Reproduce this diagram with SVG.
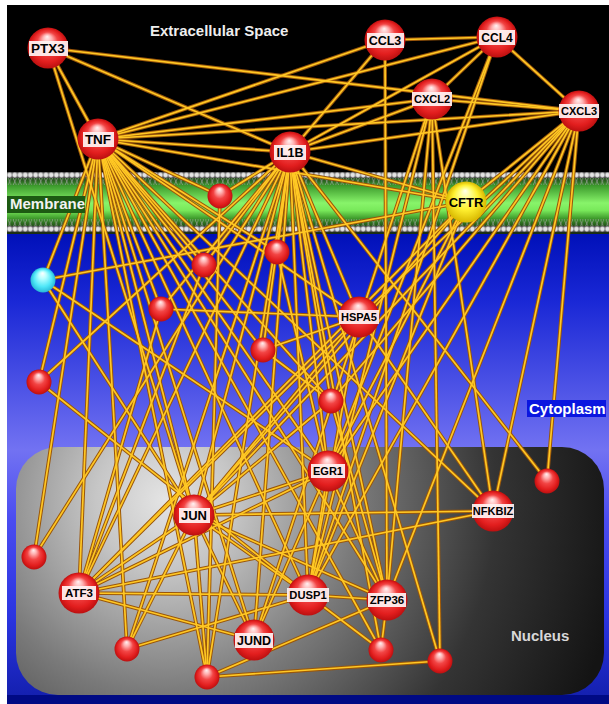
<svg xmlns="http://www.w3.org/2000/svg" xmlns:xlink="http://www.w3.org/1999/xlink" width="609" height="704" viewBox="0 0 609 704">
<style>
.lbl{font-family:"Liberation Sans",Arial,sans-serif;font-weight:bold;fill:#000;text-anchor:middle}
.box{fill:#fff4f4;fill-opacity:0.92}
.region{font-family:"Liberation Sans",Arial,sans-serif;font-weight:bold;font-size:15px}
.red{fill:url(#gRed)}
</style>
<defs>
<radialGradient id="gRed" cx="50%" cy="50%" r="50%" fx="48%" fy="22%">
<stop offset="0" stop-color="#fff2f2"/><stop offset="0.22" stop-color="#ffb0b0"/><stop offset="0.5" stop-color="#f24444"/><stop offset="0.8" stop-color="#e21e1e"/><stop offset="1" stop-color="#bc1010"/>
</radialGradient>
<radialGradient id="gYel" cx="50%" cy="50%" r="50%" fx="48%" fy="22%">
<stop offset="0" stop-color="#fffff0"/><stop offset="0.25" stop-color="#ffff90"/><stop offset="0.6" stop-color="#fff030"/><stop offset="1" stop-color="#d8b800"/>
</radialGradient>
<radialGradient id="gCyan" cx="50%" cy="50%" r="50%" fx="48%" fy="22%">
<stop offset="0" stop-color="#ffffff"/><stop offset="0.3" stop-color="#b8ffff"/><stop offset="0.7" stop-color="#50e8f8"/><stop offset="1" stop-color="#28b8d8"/>
</radialGradient>
<linearGradient id="gMem" x1="0" y1="172" x2="0" y2="234" gradientUnits="userSpaceOnUse">
<stop offset="0" stop-color="#1a2a14"/><stop offset="0.14" stop-color="#2a6020"/><stop offset="0.22" stop-color="#3c9a2c"/><stop offset="0.5" stop-color="#88f46a"/><stop offset="0.62" stop-color="#78e85a"/><stop offset="0.76" stop-color="#3a9428"/><stop offset="0.88" stop-color="#224c18"/><stop offset="1" stop-color="#1a2a14"/>
</linearGradient>
<linearGradient id="gCyto" x1="0" y1="232" x2="0" y2="696" gradientUnits="userSpaceOnUse">
<stop offset="0" stop-color="#0010b8"/><stop offset="0.15" stop-color="#1a28d6"/><stop offset="0.47" stop-color="#7272f2"/><stop offset="0.62" stop-color="#4a4cf0"/><stop offset="0.83" stop-color="#2a34e0"/><stop offset="1" stop-color="#1420b0"/>
</linearGradient>
<radialGradient id="gNuc" cx="165" cy="500" r="460" gradientUnits="userSpaceOnUse">
<stop offset="0" stop-color="#e4e4e4"/><stop offset="0.15" stop-color="#c6c6c6"/><stop offset="0.42" stop-color="#7a7a7a"/><stop offset="0.72" stop-color="#343434"/><stop offset="1" stop-color="#141414"/>
</radialGradient>
<pattern id="pBeads" x="7" y="172" width="5.2" height="6" patternUnits="userSpaceOnUse">
<rect width="5.2" height="6" fill="#505050"/>
<circle cx="2.6" cy="3" r="2.4" fill="#e4e4e4" stroke="#909090" stroke-width="0.4"/>
</pattern>
<pattern id="pTails" x="7" y="178" width="5.2" height="7" patternUnits="userSpaceOnUse">
<path d="M1 0 L4 7 M4 0 L1 7" stroke="#a8a8a8" stroke-width="0.6" fill="none"/>
</pattern>
</defs>

<rect x="0" y="0" width="609" height="704" fill="#ffffff"/>
<rect x="7" y="5" width="602" height="168" fill="#000000"/>
<rect x="7" y="232" width="602" height="464" fill="url(#gCyto)"/>
<rect x="7" y="695" width="602" height="9" fill="#000a84"/>
<rect x="7" y="172" width="602" height="62" fill="url(#gMem)"/>
<rect x="7" y="172" width="602" height="6" fill="url(#pBeads)"/>
<rect x="7" y="178" width="602" height="7" fill="url(#pTails)"/>
<rect x="7" y="219" width="602" height="7" fill="url(#pTails)"/>
<rect x="7" y="226" width="602" height="6" fill="url(#pBeads)"/>
<rect x="16" y="447" width="588" height="248" rx="42" ry="42" fill="url(#gNuc)"/>

<g id="connectors">
<g stroke="#9a560a" stroke-width="3.7" stroke-linecap="round">
<g id="edge-lines">
<line x1="48" y1="48" x2="579" y2="111"/>
<line x1="48" y1="48" x2="290" y2="152"/>
<line x1="48" y1="48" x2="98" y2="139"/>
<line x1="48" y1="48" x2="194" y2="515"/>
<line x1="98" y1="139" x2="385" y2="40"/>
<line x1="98" y1="139" x2="497" y2="37"/>
<line x1="98" y1="139" x2="432" y2="99"/>
<line x1="98" y1="139" x2="579" y2="111"/>
<line x1="98" y1="139" x2="290" y2="152"/>
<line x1="98" y1="139" x2="466" y2="202"/>
<line x1="98" y1="139" x2="220" y2="196"/>
<line x1="290" y1="152" x2="385" y2="40"/>
<line x1="290" y1="152" x2="497" y2="37"/>
<line x1="290" y1="152" x2="432" y2="99"/>
<line x1="290" y1="152" x2="579" y2="111"/>
<line x1="290" y1="152" x2="466" y2="202"/>
<line x1="290" y1="152" x2="220" y2="196"/>
<line x1="385" y1="40" x2="497" y2="37"/>
<line x1="497" y1="37" x2="432" y2="99"/>
<line x1="497" y1="37" x2="579" y2="111"/>
<line x1="432" y1="99" x2="579" y2="111"/>
<line x1="579" y1="111" x2="466" y2="202"/>
<line x1="385" y1="40" x2="387" y2="600"/>
<line x1="497" y1="37" x2="328" y2="471"/>
<line x1="497" y1="37" x2="308" y2="595"/>
<line x1="43" y1="280" x2="466" y2="202"/>
<line x1="98" y1="139" x2="43" y2="280"/>
<line x1="98" y1="139" x2="39" y2="382"/>
<line x1="98" y1="139" x2="34" y2="557"/>
<line x1="98" y1="139" x2="79" y2="593"/>
<line x1="98" y1="139" x2="127" y2="649"/>
<line x1="98" y1="139" x2="194" y2="515"/>
<line x1="98" y1="139" x2="207" y2="677"/>
<line x1="98" y1="139" x2="254" y2="640"/>
<line x1="98" y1="139" x2="308" y2="595"/>
<line x1="98" y1="139" x2="328" y2="471"/>
<line x1="98" y1="139" x2="387" y2="600"/>
<line x1="98" y1="139" x2="161" y2="309"/>
<line x1="98" y1="139" x2="204" y2="265"/>
<line x1="98" y1="139" x2="263" y2="350"/>
<line x1="98" y1="139" x2="359" y2="317"/>
<line x1="98" y1="139" x2="331" y2="401"/>
<line x1="98" y1="139" x2="493" y2="511"/>
<line x1="98" y1="139" x2="381" y2="650"/>
<line x1="98" y1="139" x2="277" y2="252"/>
<line x1="290" y1="152" x2="204" y2="265"/>
<line x1="290" y1="152" x2="277" y2="252"/>
<line x1="290" y1="152" x2="263" y2="350"/>
<line x1="290" y1="152" x2="359" y2="317"/>
<line x1="290" y1="152" x2="331" y2="401"/>
<line x1="290" y1="152" x2="328" y2="471"/>
<line x1="290" y1="152" x2="194" y2="515"/>
<line x1="290" y1="152" x2="308" y2="595"/>
<line x1="290" y1="152" x2="387" y2="600"/>
<line x1="290" y1="152" x2="254" y2="640"/>
<line x1="290" y1="152" x2="79" y2="593"/>
<line x1="290" y1="152" x2="34" y2="557"/>
<line x1="290" y1="152" x2="127" y2="649"/>
<line x1="290" y1="152" x2="207" y2="677"/>
<line x1="290" y1="152" x2="381" y2="650"/>
<line x1="290" y1="152" x2="39" y2="382"/>
<line x1="290" y1="152" x2="440" y2="661"/>
<line x1="290" y1="152" x2="547" y2="481"/>
<line x1="290" y1="152" x2="161" y2="309"/>
<line x1="466" y1="202" x2="308" y2="595"/>
<line x1="466" y1="202" x2="194" y2="515"/>
<line x1="466" y1="202" x2="328" y2="471"/>
<line x1="466" y1="202" x2="79" y2="593"/>
<line x1="579" y1="111" x2="359" y2="317"/>
<line x1="579" y1="111" x2="328" y2="471"/>
<line x1="579" y1="111" x2="194" y2="515"/>
<line x1="579" y1="111" x2="308" y2="595"/>
<line x1="579" y1="111" x2="387" y2="600"/>
<line x1="579" y1="111" x2="493" y2="511"/>
<line x1="579" y1="111" x2="547" y2="481"/>
<line x1="579" y1="111" x2="331" y2="401"/>
<line x1="432" y1="99" x2="308" y2="595"/>
<line x1="432" y1="99" x2="387" y2="600"/>
<line x1="432" y1="99" x2="440" y2="661"/>
<line x1="432" y1="99" x2="493" y2="511"/>
<line x1="432" y1="99" x2="254" y2="640"/>
<line x1="220" y1="196" x2="207" y2="677"/>
<line x1="204" y1="265" x2="79" y2="593"/>
<line x1="277" y1="252" x2="328" y2="471"/>
<line x1="161" y1="309" x2="359" y2="317"/>
<line x1="161" y1="309" x2="79" y2="593"/>
<line x1="263" y1="350" x2="359" y2="317"/>
<line x1="263" y1="350" x2="331" y2="401"/>
<line x1="39" y1="382" x2="308" y2="595"/>
<line x1="43" y1="280" x2="328" y2="471"/>
<line x1="43" y1="280" x2="194" y2="515"/>
<line x1="331" y1="401" x2="387" y2="600"/>
<line x1="331" y1="401" x2="194" y2="515"/>
<line x1="359" y1="317" x2="493" y2="511"/>
<line x1="359" y1="317" x2="194" y2="515"/>
<line x1="359" y1="317" x2="79" y2="593"/>
<line x1="359" y1="317" x2="308" y2="595"/>
<line x1="194" y1="515" x2="493" y2="511"/>
<line x1="194" y1="515" x2="328" y2="471"/>
<line x1="194" y1="515" x2="79" y2="593"/>
<line x1="194" y1="515" x2="308" y2="595"/>
<line x1="194" y1="515" x2="387" y2="600"/>
<line x1="194" y1="515" x2="254" y2="640"/>
<line x1="194" y1="515" x2="207" y2="677"/>
<line x1="194" y1="515" x2="127" y2="649"/>
<line x1="328" y1="471" x2="79" y2="593"/>
<line x1="328" y1="471" x2="308" y2="595"/>
<line x1="328" y1="471" x2="387" y2="600"/>
<line x1="328" y1="471" x2="254" y2="640"/>
<line x1="79" y1="593" x2="493" y2="511"/>
<line x1="79" y1="593" x2="308" y2="595"/>
<line x1="79" y1="593" x2="254" y2="640"/>
<line x1="308" y1="595" x2="387" y2="600"/>
<line x1="308" y1="595" x2="381" y2="650"/>
<line x1="387" y1="600" x2="381" y2="650"/>
<line x1="207" y1="677" x2="387" y2="600"/>
<line x1="207" y1="677" x2="440" y2="661"/>
<line x1="127" y1="649" x2="308" y2="595"/>
</g>
</g>
<use xlink:href="#edge-lines" href="#edge-lines" stroke="#ffc824" stroke-width="1.7"/>
</g>

<g id="region-labels">
<text class="region" x="150" y="36" fill="#eeeeee">Extracellular Space</text>
<rect x="7" y="196" width="78" height="17" fill="#1d5a12"/>
<text class="region" x="10" y="209" fill="#f2f2f2">Membrane</text>
<rect x="527" y="400" width="79" height="17" fill="#0a16e0"/>
<text class="region" x="529" y="414" fill="#ffffff">Cytoplasm</text>
<text class="region" x="511" y="641" fill="#d8d8d8">Nucleus</text>
</g>

<g id="nodes">
<g id="n-PTX3"><circle class="red" cx="48" cy="48" r="20.5"/><rect class="box" x="29" y="41" width="39" height="15"/><text class="lbl" x="48" y="53" font-size="13.5">PTX3</text></g>
<g id="n-TNF"><circle class="red" cx="98" cy="139" r="20.5"/><rect class="box" x="83" y="132" width="31" height="15"/><text class="lbl" x="98" y="144" font-size="13.5">TNF</text></g>
<g id="n-IL1B"><circle class="red" cx="290" cy="152" r="20.5"/><rect class="box" x="274" y="145" width="32" height="15"/><text class="lbl" x="290" y="157" font-size="12.5">IL1B</text></g>
<g id="n-CCL3"><circle class="red" cx="385" cy="40" r="20.5"/><rect class="box" x="367" y="33" width="37" height="15"/><text class="lbl" x="385" y="45" font-size="12.5">CCL3</text></g>
<g id="n-CCL4"><circle class="red" cx="497" cy="37" r="20.5"/><rect class="box" x="479" y="30" width="36" height="15"/><text class="lbl" x="497" y="42" font-size="12">CCL4</text></g>
<g id="n-CXCL2"><circle class="red" cx="432" cy="99" r="20.5"/><rect class="box" x="412" y="92" width="40" height="14"/><text class="lbl" x="432" y="103" font-size="11">CXCL2</text></g>
<g id="n-CXCL3"><circle class="red" cx="579" cy="111" r="20.5"/><rect class="box" x="559" y="104" width="40" height="14"/><text class="lbl" x="579" y="115" font-size="11">CXCL3</text></g>
<g id="n-CFTR"><circle cx="466" cy="202" r="20.5" fill="url(#gYel)"/><text class="lbl" x="466" y="207" font-size="13">CFTR</text></g>
<g id="n-m1"><circle class="red" cx="220" cy="196" r="12.5"/></g>
<g id="n-cyan"><circle cx="43" cy="280" r="12.5" fill="url(#gCyan)"/></g>
<g id="n-s1"><circle class="red" cx="204" cy="265" r="12.5"/></g>
<g id="n-s2"><circle class="red" cx="277" cy="252" r="12.5"/></g>
<g id="n-s3"><circle class="red" cx="161" cy="309" r="12.5"/></g>
<g id="n-s4"><circle class="red" cx="263" cy="350" r="12.5"/></g>
<g id="n-s5"><circle class="red" cx="39" cy="382" r="12.5"/></g>
<g id="n-HSPA5"><circle class="red" cx="359" cy="317" r="20.5"/><rect class="box" x="339" y="310" width="40" height="14"/><text class="lbl" x="359" y="321" font-size="11">HSPA5</text></g>
<g id="n-s6"><circle class="red" cx="331" cy="401" r="12.5"/></g>
<g id="n-EGR1"><circle class="red" cx="328" cy="471" r="20.5"/><rect class="box" x="311" y="464" width="34" height="14"/><text class="lbl" x="328" y="475" font-size="11">EGR1</text></g>
<g id="n-JUN"><circle class="red" cx="194" cy="515" r="20.5"/><rect class="box" x="179" y="508" width="31" height="15"/><text class="lbl" x="194" y="520" font-size="13">JUN</text></g>
<g id="n-NFKBIZ"><circle class="red" cx="493" cy="511" r="20.5"/><rect class="box" x="472" y="504" width="42" height="14"/><text class="lbl" x="493" y="515" font-size="11">NFKBIZ</text></g>
<g id="n-s7"><circle class="red" cx="547" cy="481" r="12.5"/></g>
<g id="n-s8"><circle class="red" cx="34" cy="557" r="12.5"/></g>
<g id="n-ATF3"><circle class="red" cx="79" cy="593" r="20.5"/><rect class="box" x="62" y="586" width="34" height="14"/><text class="lbl" x="79" y="597" font-size="11.5">ATF3</text></g>
<g id="n-DUSP1"><circle class="red" cx="308" cy="595" r="20.5"/><rect class="box" x="287" y="588" width="42" height="14"/><text class="lbl" x="308" y="599" font-size="11.2">DUSP1</text></g>
<g id="n-ZFP36"><circle class="red" cx="387" cy="600" r="20.5"/><rect class="box" x="368" y="593" width="38" height="14"/><text class="lbl" x="387" y="604" font-size="11.5">ZFP36</text></g>
<g id="n-JUND"><circle class="red" cx="254" cy="640" r="20.5"/><rect class="box" x="235" y="633" width="38" height="15"/><text class="lbl" x="254" y="645" font-size="12.5">JUND</text></g>
<g id="n-s9"><circle class="red" cx="127" cy="649" r="12.5"/></g>
<g id="n-s10"><circle class="red" cx="207" cy="677" r="12.5"/></g>
<g id="n-s11"><circle class="red" cx="381" cy="650" r="12.5"/></g>
<g id="n-s12"><circle class="red" cx="440" cy="661" r="12.5"/></g>
</g>
</svg>
